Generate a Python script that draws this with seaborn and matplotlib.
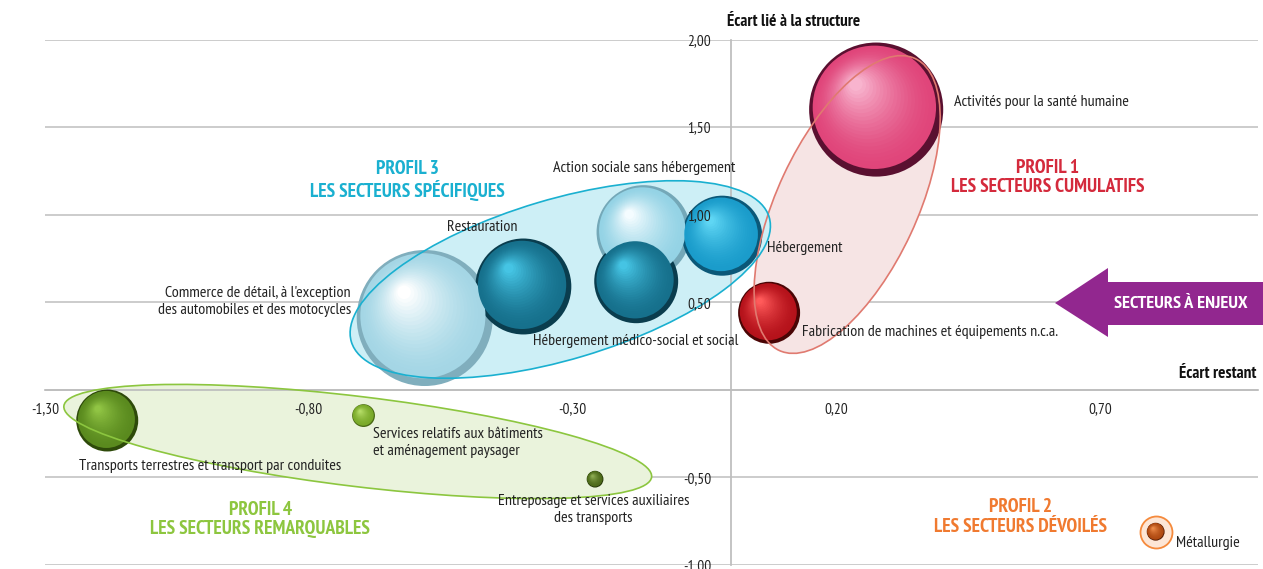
import numpy as np
import pandas as pd
import matplotlib.pyplot as plt
import seaborn as sns
from matplotlib import font_manager
from matplotlib.patches import Ellipse, Polygon
from matplotlib.transforms import ScaledTranslation
from matplotlib.colors import to_rgb

# données
secteurs = ["Commerce de détail", "Restauration", "Action sociale sans hébergement",
            "Hébergement médico-social et social", "Hébergement",
            "Activités pour la santé humaine", "Fabrication de machines",
            "Transports terrestres", "Services relatifs aux bâtiments",
            "Entreposage", "Métallurgie"]
ecart_restant = [-0.58, -0.393, -0.165, -0.179, -0.016, 0.276, 0.073, -1.182, -0.696, -0.257, 0.806]
ecart_structure = [0.41, 0.59, 0.90, 0.62, 0.88, 1.60, 0.44, -0.175, -0.147, -0.51, -0.81]
taille = [46.2, 23.0, 22.1, 17.6, 16.0, 44.9, 9.6, 9.6, 1.3, 0.7, 0.8]

# couleurs des boules : base, reflet, ombre
base = ["#a4d6e5", "#16708c", "#94d3e5", "#16708c", "#1a9ccb", "#e0457a",
        "#b5121b", "#5a8a1e", "#7aaa2a", "#4d6a1a", "#b04a12"]
reflet = ["#ffffff", "#45c4e4", "#f4fcff", "#45c4e4", "#5fd6f4", "#f8b4ce",
          "#ff5a5a", "#90c444", "#b4dc66", "#8eac52", "#ec8a48"]
ombre = ["#80aebd", "#0a3d4e", "#74a8b8", "#0a3d4e", "#0b5878", "#5a1030",
         "#4a0505", "#2e4a0a", "#4a6a15", "#253508", "#5a2005"]

etiquettes = ["Commerce de détail, à l'exception\ndes automobiles et des motocycles",
              "Restauration", "Action sociale sans hébergement",
              "Hébergement médico-social et social", "Hébergement",
              "Activités pour la santé humaine",
              "Fabrication de machines et équipements n.c.a.",
              "Transports terrestres et transport par conduites",
              "Services relatifs aux bâtiments\net aménagement paysager",
              "Entreposage et services auxiliaires\ndes transports", "Métallurgie"]
etiq_x = [-0.72, -0.47, -0.164, -0.18, 0.069, 0.423, 0.135, -0.987, -0.679, -0.26, 0.844]
etiq_y = [0.503, 0.93, 1.264, 0.276, 0.81, 1.646, 0.333, -0.436, -0.30, -0.683, -0.877]
etiq_ha = ["right", "center", "center", "center", "left", "left", "left",
           "center", "left", "center", "left"]

profils = ["PROFIL 1\nLES SECTEURS CUMULATIFS", "PROFIL 2\nLES SECTEURS DÉVOILÉS",
           "PROFIL 3\nLES SECTEURS SPÉCIFIQUES", "PROFIL 4\nLES SECTEURS REMARQUABLES"]
profil_x = [0.601, 0.55, -0.612, -0.892]
profil_y = [1.213, -0.725, 1.195, -0.741]
profil_col = ["#d42a3c", "#f07a30", "#1ab0d0", "#8dc63f"]

xticks = [-1.30, -0.80, -0.30, 0.20, 0.70]
yticks = [-1.00, -0.50, 0.00, 0.50, 1.00, 1.50, 2.00]

df = pd.DataFrame({"secteur": secteurs, "x": ecart_restant,
                   "y": ecart_structure, "taille": taille})

sns.set_theme(style="white")

# police étroite si disponible
dispo = {f.name for f in font_manager.fontManager.ttflist}
police = "Roboto"
for nom in ["PT Sans Narrow", "Fira Sans Condensed", "Open Sans Condensed",
            "Roboto Condensed", "Liberation Sans Narrow", "Archivo Narrow",
            "Encode Sans Condensed", "IBM Plex Sans Condensed"]:
    if nom in dispo:
        police = nom
        break
plt.rcParams["font.family"] = [police, "DejaVu Sans"]

fig = plt.figure(figsize=(12.63, 5.69), dpi=100)
ax = fig.add_axes([45 / 1263, 4 / 569, 1213 / 1263, 525.5 / 569])
ax.set_xlim(-1.3, 1.0)
ax.set_ylim(-1.0, 2.0)

# lignes horizontales
for v in yticks:
    ax.axhline(v, color="#c4c4c4", lw=1.2, zorder=0.5)

# ellipses des profils (en unités d'écran)
def ellipse(cx, cy, w, h, ang, fc, ec):
    tr = fig.dpi_scale_trans + ScaledTranslation(cx, cy, ax.transData)
    ax.add_patch(Ellipse((0, 0), w / 100, h / 100, angle=ang, transform=tr,
                         facecolor=fc, edgecolor="none", zorder=1))
    ax.add_patch(Ellipse((0, 0), w / 100, h / 100, angle=ang, transform=tr,
                         facecolor="none", edgecolor=ec, lw=1.2, zorder=6))

ellipse(0.221, 1.058, 322, 140, 65, "#f6e4e4", "#e07a70")
ellipse(-0.323, 0.63, 436, 160, 16.6, "#cdeff6", "#1ab0d0")
ellipse(-0.707, -0.295, 592, 90, -6.9, "#eaf3dc", "#8cc63f")

# anneau autour de Métallurgie
ax.scatter([ecart_restant[-1]], [ecart_structure[-1]], s=(1.44 * 16) ** 2,
           facecolor="#fde6d6", edgecolor="#f58a3c", lw=1.3, zorder=2)

smax = (1.44 * 68) ** 2
k = smax / max(taille)
sns.scatterplot(data=df, x="x", y="y", size="taille", sizes=(0, smax),
                size_norm=(0, max(taille)), hue="secteur",
                palette=dict(zip(secteurs, ombre)), edgecolor="none",
                legend=False, ax=ax, zorder=3)

# effet de volume : couches superposées décalées vers le haut à gauche
n = 22
for i in range(len(secteurs)):
    r = np.sqrt(taille[i] * k) / 2
    c0, c1 = np.array(to_rgb(base[i])), np.array(to_rgb(reflet[i]))
    for j in range(n):
        t = j / (n - 1)
        f = 0.92 - 0.82 * t
        d = (1 - f) * r * 0.42 / 72
        col = c0 + (c1 - c0) * t ** 1.6
        tr = ax.transData + ScaledTranslation(-d * 0.8, d, fig.dpi_scale_trans)
        ax.scatter([ecart_restant[i]], [ecart_structure[i]], s=(2 * r * f) ** 2,
                   color=col, edgecolor="none", transform=tr, zorder=4)

for i in range(len(etiquettes)):
    ax.text(etiq_x[i], etiq_y[i], etiquettes[i], ha=etiq_ha[i], va="center",
            fontsize=11.5, color="#222222", linespacing=1.25, zorder=7,
            multialignment="center" if etiq_ha[i] == "center" else etiq_ha[i])

for i in range(len(profils)):
    ax.text(profil_x[i], profil_y[i], profils[i], ha="center", va="center",
            fontsize=14, fontweight="bold", color=profil_col[i],
            linespacing=1.1, zorder=7)

ax.text(0.119, 2.102, "Écart lié à la structure", ha="center", va="center",
        fontsize=12.3, fontweight="bold", color="#111111", clip_on=False)
ax.text(0.997, 0.088, "Écart restant", ha="right", va="center",
        fontsize=12.3, fontweight="bold", color="#111111")

# axes centrés
for s in ["top", "right"]:
    ax.spines[s].set_visible(False)
ax.spines["left"].set_position(("data", 0))
ax.spines["bottom"].set_position(("data", 0))
ax.spines["left"].set_color("#bdbdbd")
ax.spines["bottom"].set_color("#bdbdbd")
ax.set_xticks(xticks)
ax.set_xticklabels([f"{v:.2f}".replace(".", ",") for v in xticks])
ax.set_yticks(yticks)
ax.set_yticklabels(["" if v == 0 else f"{v:.2f}".replace(".", ",") for v in yticks])
ax.tick_params(axis="x", length=3, color="#bdbdbd", pad=6, labelsize=11, labelcolor="#222222")
ax.tick_params(axis="y", length=0, pad=14, labelsize=11, labelcolor="#222222")
ax.xaxis.set_zorder(8)
ax.yaxis.set_zorder(8)
ax.set_xlabel("")
ax.set_ylabel("")

# flèche "secteurs à enjeux"
pts = [(1055, 303), (1108, 268), (1108, 282), (1263, 282), (1263, 325),
       (1108, 325), (1108, 337)]
fig.patches.append(Polygon([(px / 1263, 1 - py / 569) for px, py in pts],
                           closed=True, transform=fig.transFigure,
                           facecolor="#92278f", edgecolor="none"))
fig.text(1181 / 1263, 1 - 304 / 569, "SECTEURS À ENJEUX", ha="center",
         va="center", color="white", fontsize=13.2, fontweight="bold")

fig.savefig("out.png", dpi=100)
